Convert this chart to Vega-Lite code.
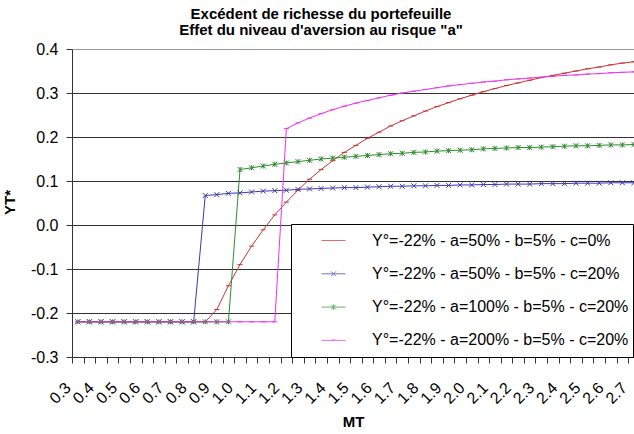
{
  "$schema": "https://vega.github.io/schema/vega-lite/v6.json",
  "width": 562,
  "height": 308,
  "autosize": {"type": "none"},
  "padding": {"left": 72, "top": 49, "right": 0, "bottom": 77},
  "background": "white",
  "config": {"font": "Liberation Sans", "view": {"stroke": null}},
  "title": {
    "text": ["Excédent de richesse du portefeuille", "Effet du niveau d'aversion au risque \"a\""],
    "fontSize": 15,
    "fontWeight": "bold",
    "lineHeight": 15.5,
    "color": "black",
    "anchor": "middle",
    "dx": -32,
    "offset": 3.5
  },
  "data": {"values": [
    {"t":0.3,"s":"r","v":-0.22},{"t":0.35,"s":"r","v":-0.22},{"t":0.4,"s":"r","v":-0.22},{"t":0.45,"s":"r","v":-0.22},{"t":0.5,"s":"r","v":-0.22},{"t":0.55,"s":"r","v":-0.22},{"t":0.6,"s":"r","v":-0.22},{"t":0.65,"s":"r","v":-0.22},{"t":0.7,"s":"r","v":-0.22},{"t":0.75,"s":"r","v":-0.22},{"t":0.8,"s":"r","v":-0.22},{"t":0.85,"s":"r","v":-0.22},{"t":0.9,"s":"r","v":-0.192},{"t":0.95,"s":"r","v":-0.138},{"t":1.0,"s":"r","v":-0.09},{"t":1.05,"s":"r","v":-0.048},{"t":1.1,"s":"r","v":-0.011},{"t":1.15,"s":"r","v":0.023},{"t":1.2,"s":"r","v":0.052},{"t":1.25,"s":"r","v":0.079},{"t":1.3,"s":"r","v":0.104},{"t":1.35,"s":"r","v":0.126},{"t":1.4,"s":"r","v":0.146},{"t":1.45,"s":"r","v":0.165},{"t":1.5,"s":"r","v":0.181},{"t":1.55,"s":"r","v":0.197},{"t":1.6,"s":"r","v":0.211},{"t":1.65,"s":"r","v":0.225},{"t":1.7,"s":"r","v":0.237},{"t":1.75,"s":"r","v":0.248},{"t":1.8,"s":"r","v":0.259},{"t":1.85,"s":"r","v":0.269},{"t":1.9,"s":"r","v":0.278},{"t":1.95,"s":"r","v":0.287},{"t":2.0,"s":"r","v":0.295},{"t":2.05,"s":"r","v":0.303},{"t":2.1,"s":"r","v":0.31},{"t":2.15,"s":"r","v":0.317},{"t":2.2,"s":"r","v":0.323},{"t":2.25,"s":"r","v":0.329},{"t":2.3,"s":"r","v":0.335},{"t":2.35,"s":"r","v":0.34},{"t":2.4,"s":"r","v":0.345},{"t":2.45,"s":"r","v":0.35},{"t":2.5,"s":"r","v":0.355},{"t":2.55,"s":"r","v":0.359},{"t":2.6,"s":"r","v":0.364},{"t":2.65,"s":"r","v":0.368},{"t":2.7,"s":"r","v":0.371},
    {"t":0.3,"s":"b","v":-0.22},{"t":0.35,"s":"b","v":-0.22},{"t":0.4,"s":"b","v":-0.22},{"t":0.45,"s":"b","v":-0.22},{"t":0.5,"s":"b","v":-0.22},{"t":0.55,"s":"b","v":-0.22},{"t":0.6,"s":"b","v":-0.22},{"t":0.65,"s":"b","v":-0.22},{"t":0.7,"s":"b","v":-0.22},{"t":0.75,"s":"b","v":-0.22},{"t":0.8,"s":"b","v":-0.22},{"t":0.85,"s":"b","v":0.067},{"t":0.9,"s":"b","v":0.069},{"t":0.95,"s":"b","v":0.072},{"t":1.0,"s":"b","v":0.073},{"t":1.05,"s":"b","v":0.075},{"t":1.1,"s":"b","v":0.077},{"t":1.15,"s":"b","v":0.078},{"t":1.2,"s":"b","v":0.079},{"t":1.25,"s":"b","v":0.081},{"t":1.3,"s":"b","v":0.082},{"t":1.35,"s":"b","v":0.083},{"t":1.4,"s":"b","v":0.084},{"t":1.45,"s":"b","v":0.085},{"t":1.5,"s":"b","v":0.085},{"t":1.55,"s":"b","v":0.086},{"t":1.6,"s":"b","v":0.087},{"t":1.65,"s":"b","v":0.088},{"t":1.7,"s":"b","v":0.088},{"t":1.75,"s":"b","v":0.089},{"t":1.8,"s":"b","v":0.089},{"t":1.85,"s":"b","v":0.09},{"t":1.9,"s":"b","v":0.09},{"t":1.95,"s":"b","v":0.091},{"t":2.0,"s":"b","v":0.091},{"t":2.05,"s":"b","v":0.092},{"t":2.1,"s":"b","v":0.092},{"t":2.15,"s":"b","v":0.093},{"t":2.2,"s":"b","v":0.093},{"t":2.25,"s":"b","v":0.093},{"t":2.3,"s":"b","v":0.094},{"t":2.35,"s":"b","v":0.094},{"t":2.4,"s":"b","v":0.094},{"t":2.45,"s":"b","v":0.095},{"t":2.5,"s":"b","v":0.095},{"t":2.55,"s":"b","v":0.095},{"t":2.6,"s":"b","v":0.096},{"t":2.65,"s":"b","v":0.096},{"t":2.7,"s":"b","v":0.096},
    {"t":0.3,"s":"g","v":-0.22},{"t":0.35,"s":"g","v":-0.22},{"t":0.4,"s":"g","v":-0.22},{"t":0.45,"s":"g","v":-0.22},{"t":0.5,"s":"g","v":-0.22},{"t":0.55,"s":"g","v":-0.22},{"t":0.6,"s":"g","v":-0.22},{"t":0.65,"s":"g","v":-0.22},{"t":0.7,"s":"g","v":-0.22},{"t":0.75,"s":"g","v":-0.22},{"t":0.8,"s":"g","v":-0.22},{"t":0.85,"s":"g","v":-0.22},{"t":0.9,"s":"g","v":-0.22},{"t":0.95,"s":"g","v":-0.22},{"t":1.0,"s":"g","v":0.126},{"t":1.05,"s":"g","v":0.13},{"t":1.1,"s":"g","v":0.134},{"t":1.15,"s":"g","v":0.138},{"t":1.2,"s":"g","v":0.141},{"t":1.25,"s":"g","v":0.144},{"t":1.3,"s":"g","v":0.147},{"t":1.35,"s":"g","v":0.15},{"t":1.4,"s":"g","v":0.152},{"t":1.45,"s":"g","v":0.154},{"t":1.5,"s":"g","v":0.156},{"t":1.55,"s":"g","v":0.158},{"t":1.6,"s":"g","v":0.16},{"t":1.65,"s":"g","v":0.162},{"t":1.7,"s":"g","v":0.163},{"t":1.75,"s":"g","v":0.165},{"t":1.8,"s":"g","v":0.166},{"t":1.85,"s":"g","v":0.168},{"t":1.9,"s":"g","v":0.169},{"t":1.95,"s":"g","v":0.17},{"t":2.0,"s":"g","v":0.171},{"t":2.05,"s":"g","v":0.173},{"t":2.1,"s":"g","v":0.174},{"t":2.15,"s":"g","v":0.175},{"t":2.2,"s":"g","v":0.176},{"t":2.25,"s":"g","v":0.176},{"t":2.3,"s":"g","v":0.177},{"t":2.35,"s":"g","v":0.178},{"t":2.4,"s":"g","v":0.179},{"t":2.45,"s":"g","v":0.18},{"t":2.5,"s":"g","v":0.18},{"t":2.55,"s":"g","v":0.181},{"t":2.6,"s":"g","v":0.182},{"t":2.65,"s":"g","v":0.182},{"t":2.7,"s":"g","v":0.183},
    {"t":0.3,"s":"m","v":-0.22},{"t":0.35,"s":"m","v":-0.22},{"t":0.4,"s":"m","v":-0.22},{"t":0.45,"s":"m","v":-0.22},{"t":0.5,"s":"m","v":-0.22},{"t":0.55,"s":"m","v":-0.22},{"t":0.6,"s":"m","v":-0.22},{"t":0.65,"s":"m","v":-0.22},{"t":0.7,"s":"m","v":-0.22},{"t":0.75,"s":"m","v":-0.22},{"t":0.8,"s":"m","v":-0.22},{"t":0.85,"s":"m","v":-0.22},{"t":0.9,"s":"m","v":-0.22},{"t":0.95,"s":"m","v":-0.22},{"t":1.0,"s":"m","v":-0.22},{"t":1.05,"s":"m","v":-0.22},{"t":1.1,"s":"m","v":-0.22},{"t":1.15,"s":"m","v":-0.22},{"t":1.2,"s":"m","v":0.219},{"t":1.25,"s":"m","v":0.232},{"t":1.3,"s":"m","v":0.243},{"t":1.35,"s":"m","v":0.253},{"t":1.4,"s":"m","v":0.262},{"t":1.45,"s":"m","v":0.27},{"t":1.5,"s":"m","v":0.277},{"t":1.55,"s":"m","v":0.283},{"t":1.6,"s":"m","v":0.289},{"t":1.65,"s":"m","v":0.295},{"t":1.7,"s":"m","v":0.3},{"t":1.75,"s":"m","v":0.304},{"t":1.8,"s":"m","v":0.308},{"t":1.85,"s":"m","v":0.312},{"t":1.9,"s":"m","v":0.316},{"t":1.95,"s":"m","v":0.319},{"t":2.0,"s":"m","v":0.322},{"t":2.05,"s":"m","v":0.325},{"t":2.1,"s":"m","v":0.327},{"t":2.15,"s":"m","v":0.33},{"t":2.2,"s":"m","v":0.332},{"t":2.25,"s":"m","v":0.334},{"t":2.3,"s":"m","v":0.336},{"t":2.35,"s":"m","v":0.338},{"t":2.4,"s":"m","v":0.34},{"t":2.45,"s":"m","v":0.341},{"t":2.5,"s":"m","v":0.343},{"t":2.55,"s":"m","v":0.344},{"t":2.6,"s":"m","v":0.346},{"t":2.65,"s":"m","v":0.347},{"t":2.7,"s":"m","v":0.348}
  ]},
  "encoding": {
    "x": {
      "field": "t",
      "type": "quantitative",
      "scale": {"domain": [0.275, 2.7001], "nice": false, "zero": false},
      "axis": {
        "values": [0.275,0.3,0.325,0.375,0.4,0.425,0.475,0.5,0.525,0.575,0.6,0.625,0.675,0.7,0.725,0.775,0.8,0.825,0.875,0.9,0.925,0.975,1.0,1.025,1.075,1.1,1.125,1.175,1.2,1.225,1.275,1.3,1.325,1.375,1.4,1.425,1.475,1.5,1.525,1.575,1.6,1.625,1.675,1.7,1.725,1.775,1.8,1.825,1.875,1.9,1.925,1.975,2.0,2.025,2.075,2.1,2.125,2.175,2.2,2.225,2.275,2.3,2.325,2.375,2.4,2.425,2.475,2.5,2.525,2.575,2.6,2.625,2.675,2.7],
        "labelExpr": "abs(datum.value*10 - round(datum.value*10)) < 0.01 ? format(datum.value, '.1f') : ''",
        "tickOpacity": {"condition": {"test": "abs(datum.value*10 - round(datum.value*10)) < 0.01", "value": 0}, "value": 1},
        "labelAngle": -45,
        "labelAlign": "right",
        "labelBaseline": "middle",
        "labelFontSize": 16,
        "labelColor": "black",
        "labelPadding": 22,
        "labelOffset": -10,
        "labelOverlap": false,
        "labelBound": false,
        "labelFlush": false,
        "tickSize": 6,
        "tickColor": "#333333",
        "domainColor": "#333333",
        "grid": false,
        "title": "MT",
        "titleFontSize": 15,
        "titleFontWeight": "bold",
        "titleColor": "black",
        "titleBaseline": "middle",
        "titleY": 64
      }
    },
    "y": {
      "field": "v",
      "type": "quantitative",
      "scale": {"domain": [-0.3, 0.4], "nice": false, "zero": false},
      "axis": {
        "values": [-0.3, -0.2, -0.1, 0, 0.1, 0.2, 0.3, 0.4],
        "labelExpr": "(datum.value < -0.001 ? '-' : '') + format(abs(datum.value), '.1f')",
        "labelFontSize": 16,
        "labelColor": "black",
        "labelPadding": 8,
        "tickSize": 6,
        "tickColor": "#333333",
        "domainColor": "#333333",
        "grid": true,
        "gridColor": {"condition": {"test": "datum.value > 0.39", "value": "#999999"}, "value": "#333333"},
        "gridOpacity": 1,
        "title": "YT*",
        "titleFontSize": 15,
        "titleFontWeight": "bold",
        "titleColor": "black",
        "titleBaseline": "middle",
        "titleAlign": "center",
        "titleX": -63,
        "titleY": 153
      }
    },
    "color": {
      "field": "s",
      "type": "nominal",
      "scale": {"domain": ["r", "b", "g", "m"], "range": ["#cc3333", "#3a3aaa", "#2e8b2e", "#ee33ee"]},
      "legend": null
    }
  },
  "layer": [
    {"mark": {"type": "line", "strokeWidth": 1}},
    {
      "mark": {"type": "point", "filled": false, "size": 25, "strokeWidth": 1, "opacity": 1},
      "encoding": {
        "shape": {
          "field": "s",
          "type": "nominal",
          "scale": {"domain": ["r", "b", "g", "m"], "range": ["M-1,0H1", "M-1,-1L1,1M-1,1L1,-1", "M-1,-1L1,1M-1,1L1,-1M0,-1V1", "M-1,0H1"]},
          "legend": null
        }
      }
    },
    {
      "transform": [{"filter": "false"}],
      "mark": {"type": "point", "filled": false, "strokeWidth": 1},
      "encoding": {
        "shape": {
          "field": "s",
          "type": "nominal",
          "scale": {"domain": ["r", "b", "g", "m"], "range": ["M-1,0H1", "M-1,0H1M-0.2,-0.2L0.2,0.2M-0.2,0.2L0.2,-0.2", "M-1,0H1M-0.2,-0.2L0.2,0.2M-0.2,0.2L0.2,-0.2M0,-0.22V0.22", "M-1,0H1M-0.15,-0.04H0.15"]},
          "legend": {
            "title": null,
            "orient": "none",
            "legendX": 219,
            "legendY": 175,
            "padding": 4,
            "fillColor": "white",
            "strokeColor": "black",
            "symbolSize": 576,
            "symbolStrokeWidth": 1,
            "symbolOffset": 26,
            "labelOffset": 26,
            "clipHeight": 25,
            "rowPadding": 8.3,
            "labelFontSize": 16,
            "labelColor": "black",
            "labelLimit": 600,
            "labelExpr": "(datum.value == 'r' ? 'Y°=-22% - a=50% - b=5% - c=0%' : datum.value == 'b' ? 'Y°=-22% - a=50% - b=5% - c=20%' : datum.value == 'g' ? 'Y°=-22% - a=100% - b=5% - c=20%' : 'Y°=-22% - a=200% - b=5% - c=20%') + '          '"
          }
        },
        "stroke": {
          "field": "s",
          "type": "nominal",
          "scale": {"domain": ["r", "b", "g", "m"], "range": ["#cc3333", "#3a3aaa", "#2e8b2e", "#ee33ee"]},
          "legend": {
            "title": null,
            "orient": "none",
            "legendX": 219,
            "legendY": 175,
            "padding": 4,
            "fillColor": "white",
            "strokeColor": "black",
            "symbolSize": 576,
            "symbolStrokeWidth": 1,
            "symbolOffset": 26,
            "labelOffset": 26,
            "clipHeight": 25,
            "rowPadding": 8.3,
            "labelFontSize": 16,
            "labelColor": "black",
            "labelLimit": 600,
            "labelExpr": "(datum.value == 'r' ? 'Y°=-22% - a=50% - b=5% - c=0%' : datum.value == 'b' ? 'Y°=-22% - a=50% - b=5% - c=20%' : datum.value == 'g' ? 'Y°=-22% - a=100% - b=5% - c=20%' : 'Y°=-22% - a=200% - b=5% - c=20%') + '          '"
          }
        }
      }
    }
  ],
  "resolve": {
    "scale": {"shape": "independent", "stroke": "independent"},
    "legend": {"shape": "independent", "stroke": "independent"}
  }
}
